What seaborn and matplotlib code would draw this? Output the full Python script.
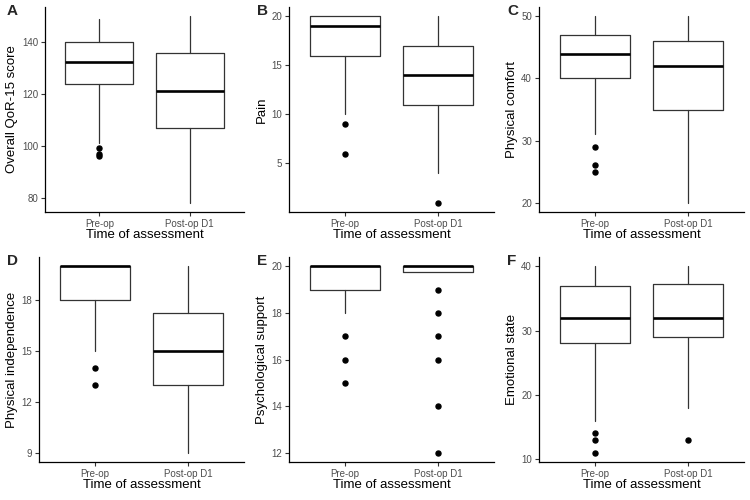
import matplotlib
matplotlib.use("Agg")
import matplotlib.pyplot as plt
import seaborn as sns

sns.set_theme(style="ticks")
plt.rcParams['font.family'] = ['Liberation Sans', 'DejaVu Sans']

timepoints = ["Pre-op", "Post-op D1"]
panel_letters = ["A", "B", "C", "D", "E", "F"]
outcomes = ["Overall QoR-15 score", "Pain", "Physical comfort",
            "Physical independence", "Psychological support", "Emotional state"]

# box summaries per panel, [pre-op, post-op D1]
whis_lo = [[101, 78], [10, 4], [31, 20], [15, 9], [18, 19.75], [16, 18]]
q1 = [[124, 107], [16, 11], [40, 35], [18, 13], [19, 19.75], [28, 29]]
med = [[132.5, 121], [19, 14], [44, 42], [20, 15], [20, 20], [32, 32]]
q3 = [[140, 136], [20, 17], [47, 46], [20, 17.25], [20, 20], [37, 37.25]]
whis_hi = [[149, 150], [20, 20], [50, 50], [20, 20], [20, 20], [40, 40]]
fliers = [
    [[99, 97, 96], []],
    [[9, 6], [1]],
    [[29, 26, 25], []],
    [[14, 13], []],
    [[17, 16, 15], [19, 18, 17, 16, 14, 12]],
    [[14, 13, 11], [13]],
]
y_ticks = [[80, 100, 120, 140], [5, 10, 15, 20], [20, 30, 40, 50],
           [9, 12, 15, 18], [12, 14, 16, 18, 20], [10, 20, 30, 40]]

W, H = 750, 500
# axes rectangles in pixels: left, right, top, bottom
rects = [(45, 244, 7, 212), (289, 494, 7, 212), (539, 744, 7, 212),
         (39, 244, 257, 462), (289, 494, 257, 462), (539, 744, 257, 462)]
panel_x = [0, 250, 500, 0, 250, 500]
panel_y = [0, 0, 0, 250, 250, 250]

fig = plt.figure(figsize=(7.5, 5), dpi=100)
grey = "#333333"

for i in range(6):
    l, r, t, b = rects[i]
    ax = fig.add_axes([l / W, 1 - b / H, (r - l) / W, (b - t) / H])
    stats = []
    for j in range(2):
        stats.append(dict(whislo=whis_lo[i][j], q1=q1[i][j], med=med[i][j],
                          q3=q3[i][j], whishi=whis_hi[i][j],
                          fliers=fliers[i][j], label=timepoints[j]))
    ax.bxp(stats, positions=[1, 2], widths=0.75, showcaps=False,
           boxprops=dict(color=grey, linewidth=0.9),
           whiskerprops=dict(color=grey, linewidth=0.9),
           medianprops=dict(color="black", linewidth=1.9),
           flierprops=dict(marker="o", markerfacecolor="black",
                           markeredgecolor="black", markersize=3.6))

    # ggplot-style 5% expansion around all plotted values
    lo = min(whis_lo[i] + [v for f in fliers[i] for v in f])
    hi = max(whis_hi[i])
    pad = (hi - lo) * 0.05
    ax.set_ylim(lo - pad, hi + pad)
    ax.set_xlim(0.4, 2.6)
    ax.set_yticks(y_ticks[i])
    ax.set_xticks([1, 2])
    ax.set_xticklabels(timepoints)
    ax.tick_params(axis="both", labelsize=7, labelcolor="#4D4D4D",
                   color=grey, length=3, width=0.8, pad=2)
    sns.despine(ax=ax)
    for s in ["left", "bottom"]:
        ax.spines[s].set_color("black")
        ax.spines[s].set_linewidth(0.9)

    ax.set_xlabel("Time of assessment", fontsize=9.5, color="black")
    ax.set_ylabel(outcomes[i], fontsize=9.5, color="black")
    axw, axh = r - l, b - t
    ax.xaxis.set_label_coords(0.5, -17 / axh)
    ax.yaxis.set_label_coords((panel_x[i] + 18 - l) / axw, 0.5)
    fig.text((panel_x[i] + 7) / W, 1 - (panel_y[i] + 4) / H, panel_letters[i],
             fontsize=11, fontweight="bold", ha="left", va="top")

fig.savefig("out.png", dpi=100)
